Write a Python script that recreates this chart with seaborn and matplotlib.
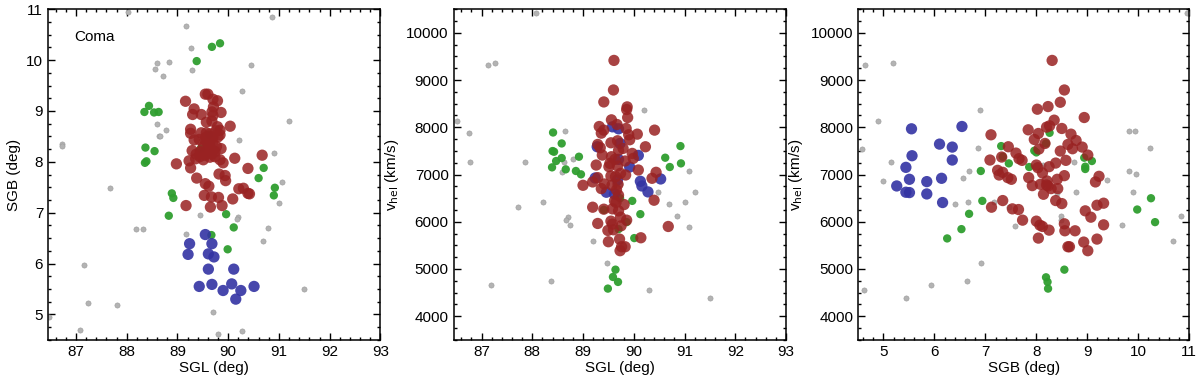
import matplotlib
matplotlib.use("Agg")
import matplotlib.pyplot as plt
import seaborn as sns
import pandas as pd
from matplotlib.ticker import MultipleLocator

sns.set_style("ticks")
plt.rcParams["font.family"] = ["Liberation Sans", "DejaVu Sans"]
plt.rcParams["font.size"] = 11
# plain black text, ticks and frames
for key in ["text.color", "axes.labelcolor", "xtick.color", "ytick.color", "axes.edgecolor"]:
    plt.rcParams[key] = "black"

# ---------------- Panel 1: SGB vs SGL ----------------
p1_gray_sgl = [88.02, 90.86, 89.16, 89.27, 88.60, 88.83, 88.56, 89.29, 88.71, 90.46, 90.27, 91.19,
               88.60, 88.77, 88.64, 88.66, 86.72, 86.72, 90.21, 90.91, 91.07, 87.67, 91.00, 89.45,
               90.19, 90.17, 88.18, 88.33, 89.17, 90.79, 90.69, 87.15, 91.49, 87.23, 87.81, 89.70,
               86.47, 87.09, 89.80, 90.27]
p1_gray_sgb = [10.95, 10.85, 10.67, 10.24, 9.95, 9.96, 9.82, 9.81, 9.69, 9.91, 9.40, 8.80,
               8.75, 8.62, 8.51, 8.51, 8.35, 8.31, 8.42, 8.17, 7.61, 7.48, 7.19, 6.95,
               6.92, 6.88, 6.68, 6.67, 6.59, 6.70, 6.44, 5.97, 5.49, 5.22, 5.19, 5.04,
               4.95, 4.69, 4.62, 4.68]

p1_green_sgl = [89.68, 89.84, 89.38, 88.44, 88.35, 88.54, 88.63, 88.37, 88.55, 88.39, 88.36, 90.70,
                90.60, 90.92, 90.90, 88.89, 88.92, 88.83, 89.96, 90.11, 89.67, 89.99, 89.62, 89.46]
p1_green_sgb = [10.26, 10.33, 9.98, 9.10, 8.98, 8.97, 8.98, 8.28, 8.21, 8.01, 7.98, 7.88,
                7.68, 7.49, 7.34, 7.38, 7.29, 6.94, 6.97, 6.71, 6.56, 6.28, 8.53, 8.26]

p1_blue_sgl = [89.55, 89.24, 89.68, 89.21, 89.61, 89.72, 89.61, 90.11, 89.43, 89.68, 89.90, 90.07,
               90.25, 90.51, 90.15]
p1_blue_sgb = [6.57, 6.39, 6.39, 6.18, 6.19, 6.13, 5.89, 5.89, 5.55, 5.59, 5.47, 5.60,
               5.47, 5.55, 5.30]

p1_red_sgl = [89.55, 89.60, 89.70, 89.79, 89.16, 89.71, 89.68, 89.33, 89.30, 89.47, 89.86, 89.57,
              89.68, 89.79, 90.04, 89.26, 89.26, 89.84, 89.47, 89.57, 89.64, 89.70, 89.84, 89.33,
              89.43, 89.54, 89.60, 89.70, 89.51, 89.64, 89.86, 89.29, 89.37, 89.45, 89.57, 89.67,
              89.74, 89.36, 89.51, 89.64, 89.84, 90.13, 90.67, 89.23, 88.98, 89.26, 89.90, 89.82,
              89.94, 89.95, 90.39, 89.38, 89.55, 89.62, 90.21, 90.30, 90.39, 90.42, 89.53, 89.67,
              89.81, 90.09, 89.17, 89.65, 89.88, 89.56, 89.60, 89.70, 89.77, 89.65, 89.54, 89.76,
              89.70, 89.74, 89.44, 89.80]
p1_red_sgb = [9.33, 9.33, 9.23, 9.20, 9.19, 9.08, 8.98, 9.04, 8.93, 8.93, 8.97, 8.78,
              8.80, 8.69, 8.70, 8.64, 8.56, 8.62, 8.57, 8.57, 8.55, 8.49, 8.53, 8.43,
              8.44, 8.43, 8.35, 8.40, 8.30, 8.30, 8.26, 8.22, 8.15, 8.20, 8.20, 8.15,
              8.10, 8.06, 8.04, 8.09, 8.04, 8.07, 8.13, 8.02, 7.96, 7.88, 7.98, 7.76,
              7.73, 7.63, 7.87, 7.68, 7.57, 7.52, 7.47, 7.48, 7.38, 7.37, 7.34, 7.31,
              7.30, 7.27, 7.14, 7.11, 7.14, 8.48, 8.26, 8.22, 8.30, 8.43, 8.13, 8.61,
              8.91, 8.20, 8.10, 8.49]

# ---------------- Panel 2: vhel vs SGL ----------------
p2_gray_sgl = [88.07, 87.12, 87.27, 90.21, 86.52, 86.76, 88.64, 86.78, 87.85, 88.63, 88.80, 88.59,
               91.08, 90.47, 91.20, 90.70, 91.01, 88.22, 87.72, 88.70, 88.67, 88.75, 90.86, 91.08,
               89.19, 89.47, 87.19, 88.36, 90.30, 91.50, 89.73]
p2_gray_v = [10429, 9325, 9360, 8369, 8129, 7883, 7919, 7264, 7272, 7272, 7335, 7054,
             7082, 6639, 6632, 6385, 6428, 6428, 6315, 6111, 6027, 5921, 6125, 5893,
             5598, 5127, 4670, 4754, 4564, 4388, 6793]

p2_green_sgl = [88.41, 88.58, 88.40, 88.43, 88.58, 88.47, 88.39, 88.66, 88.92, 88.86, 88.96, 90.62,
                90.92, 90.71, 90.93, 89.97, 90.13, 90.01, 89.73, 89.86, 89.70, 89.64, 89.59, 89.69,
                89.49, 89.41]
p2_green_v = [7890, 7658, 7497, 7482, 7349, 7286, 7152, 7110, 7377, 7075, 7004, 7356,
              7602, 7159, 7236, 6442, 6161, 5654, 6498, 5992, 5844, 4986, 4831, 4726,
              4585, 6252]

p2_blue_sgl = [89.58, 89.70, 89.28, 89.73, 90.09, 89.70, 89.92, 89.24, 90.13, 90.16, 90.28, 90.53,
               89.46, 89.62, 89.68]
p2_blue_v = [8010, 7968, 7588, 7658, 7405, 7321, 7159, 6927, 6857, 6758, 6632, 6906,
             6625, 6589, 6885]

p2_red_sgl = [89.61, 89.60, 89.41, 89.87, 89.86, 89.88, 89.56, 89.32, 89.67, 89.85, 89.41, 89.36,
              89.90, 90.07, 90.41, 89.92, 89.68, 89.55, 89.29, 89.79, 89.34, 90.23, 89.70, 89.97,
              89.38, 89.56, 89.99, 89.83, 89.53, 89.63, 89.26, 89.51, 89.68, 90.09, 90.44, 89.84,
              89.74, 89.55, 89.64, 89.29, 90.36, 89.19, 89.42, 89.00, 89.57, 89.69, 89.36, 89.66,
              89.70, 89.62, 89.65, 89.81, 90.40, 89.19, 89.41, 89.58, 89.70, 89.74, 89.55, 89.86,
              89.29, 89.58, 89.75, 90.68, 89.49, 89.60, 90.14, 89.50, 89.72, 89.83, 89.76, 89.73]
p2_red_v = [9416, 8790, 8537, 8432, 8376, 8207, 8158, 8017, 8059, 7975, 7940, 7876,
            7841, 7855, 7940, 7736, 7715, 7672, 7637, 7553, 7567, 7588, 7511, 7447,
            7412, 7377, 7342, 7286, 7236, 7321, 7201, 7166, 7180, 7096, 7047, 6990,
            7025, 6969, 6955, 6934, 6920, 6843, 6800, 6772, 6772, 6793, 6702, 6674,
            6561, 6442, 6407, 6364, 6456, 6308, 6266, 6273, 6231, 6097, 6013, 6034,
            5964, 5950, 5914, 5900, 5816, 5830, 5661, 5577, 5633, 5471, 5471, 5387]

# ---------------- Panel 3: vhel vs SGB ----------------
p3_gray_sgb = [10.95, 4.64, 5.18, 4.89, 4.57, 5.15, 4.99, 6.90, 6.85, 6.67, 6.56, 6.65,
               6.40, 7.16, 7.46, 7.59, 6.91, 6.64, 5.94, 4.62, 5.45, 8.14, 8.40, 8.74,
               8.77, 8.49, 8.48, 9.38, 9.81, 9.94, 9.82, 9.96, 10.23, 9.90, 9.69, 10.84,
               10.68]
p3_gray_v = [10429, 9325, 9360, 8136, 7532, 7272, 6857, 8369, 7560, 7082, 6920, 6421,
             6385, 6421, 6322, 5900, 5127, 4754, 4663, 4564, 4388, 7201, 6603, 7265,
             6625, 6118, 6041, 6885, 7925, 7918, 7068, 7011, 7567, 6639, 5928, 6125,
             5598]

p3_green_sgb = [7.31, 7.34, 7.46, 6.91, 6.94, 6.68, 6.53, 6.25, 8.26, 7.96, 8.00, 7.86,
                8.94, 9.09, 8.96, 8.96, 8.19, 9.98, 10.25, 10.33, 8.55, 8.19, 8.22, 8.23]
p3_green_v = [7602, 7377, 7236, 7075, 6442, 6168, 5844, 5647, 7883, 7504, 7468, 7159,
              7356, 7286, 7166, 7117, 7658, 6259, 6498, 5992, 4986, 4824, 4726, 4585]

p3_blue_sgb = [5.55, 6.54, 6.10, 6.35, 5.56, 6.35, 5.44, 5.51, 6.14, 5.26, 5.85, 5.44,
               5.51, 5.85, 6.16]
p3_blue_v = [7968, 8017, 7644, 7581, 7398, 7307, 7152, 6899, 6920, 6758, 6850, 6625,
             6618, 6589, 6407]

p3_red_sgb = [8.31, 8.55, 8.47, 8.02, 8.23, 8.94, 8.35, 7.11, 7.84, 8.20, 8.26, 8.50,
              8.04, 8.68, 7.96, 8.78, 8.17, 8.62, 7.45, 8.90, 8.05, 8.71, 8.47, 7.60,
              9.01, 7.32, 7.66, 7.72, 7.09, 8.58, 8.38, 8.00, 8.25, 8.03, 7.24, 7.34,
              8.12, 7.27, 8.55, 9.23, 7.44, 7.51, 7.85, 8.41, 8.21, 9.16, 8.08, 7.92,
              8.20, 8.23, 8.29, 8.42, 8.14, 8.38, 7.34, 8.50, 9.32, 9.19, 7.12, 7.53,
              7.65, 8.96, 9.07, 7.73, 8.00, 8.55, 8.07, 8.12, 9.32, 8.25, 8.56, 8.76,
              8.04, 9.19, 8.93, 8.62, 8.65, 9.01]
p3_red_v = [9416, 8790, 8530, 8383, 8439, 8207, 8151, 7841, 7947, 8003, 8031, 7975,
            7869, 7855, 7743, 7721, 7658, 7637, 7588, 7581, 7539, 7546, 7497, 7454,
            7412, 7370, 7335, 7300, 7307, 7300, 7243, 7201, 7166, 7145, 7089, 7047,
            7033, 6990, 6976, 6962, 6934, 6899, 6934, 6899, 6864, 6843, 6793, 6765,
            6780, 6758, 6702, 6702, 6582, 6449, 6449, 6385, 6393, 6350, 6308, 6273,
            6259, 6231, 6097, 6034, 6013, 5957, 5928, 5900, 5935, 5823, 5809, 5809,
            5654, 5633, 5570, 5471, 5471, 5387]

styles = {
    "gray": dict(color="#b3b3b3", s=14, edgecolor="#9a9a9a", linewidth=0.4, alpha=1.0),
    "green": dict(color="#2f9e2f", s=36, edgecolor="none", linewidth=0, alpha=0.95),
    "blue": dict(color="#3333a3", s=66, edgecolor="none", linewidth=0, alpha=0.9),
    "red": dict(color="#992222", s=66, edgecolor="none", linewidth=0, alpha=0.85),
}

panels = [
    [("gray", p1_gray_sgl, p1_gray_sgb), ("green", p1_green_sgl, p1_green_sgb),
     ("blue", p1_blue_sgl, p1_blue_sgb), ("red", p1_red_sgl, p1_red_sgb)],
    [("gray", p2_gray_sgl, p2_gray_v), ("green", p2_green_sgl, p2_green_v),
     ("blue", p2_blue_sgl, p2_blue_v), ("red", p2_red_sgl, p2_red_v)],
    [("gray", p3_gray_sgb, p3_gray_v), ("green", p3_green_sgb, p3_green_v),
     ("blue", p3_blue_sgb, p3_blue_v), ("red", p3_red_sgb, p3_red_v)],
]

fig = plt.figure(figsize=(12, 3.84), dpi=100)
boxes = [(0.040, 0.115, 0.277, 0.861), (0.378, 0.115, 0.277, 0.861), (0.715, 0.115, 0.276, 0.861)]
axes = [fig.add_axes(b) for b in boxes]

for ax, groups in zip(axes, panels):
    for name, xs, ys in groups:
        df = pd.DataFrame({"x": xs, "y": ys})
        sns.scatterplot(data=df, x="x", y="y", ax=ax, legend=False, **styles[name])

axes[0].set_xlim(86.45, 93)
axes[0].set_ylim(4.5, 11)
axes[0].set_xlabel("SGL (deg)")
axes[0].set_ylabel("SGB (deg)")
axes[0].xaxis.set_major_locator(MultipleLocator(1))
axes[0].xaxis.set_minor_locator(MultipleLocator(0.2))
axes[0].yaxis.set_major_locator(MultipleLocator(1))
axes[0].yaxis.set_minor_locator(MultipleLocator(0.25))
axes[0].text(86.96, 10.46, "Coma", fontsize=11, va="center", ha="left")

axes[1].set_xlim(86.45, 93)
axes[1].set_ylim(3500, 10500)
axes[1].set_xlabel("SGL (deg)")
axes[1].set_ylabel(r"v$_{\rm hel}$ (km/s)")
axes[1].xaxis.set_major_locator(MultipleLocator(1))
axes[1].xaxis.set_minor_locator(MultipleLocator(0.2))

axes[2].set_xlim(4.5, 11)
axes[2].set_ylim(3500, 10500)
axes[2].set_xlabel("SGB (deg)")
axes[2].set_ylabel(r"v$_{\rm hel}$ (km/s)")
axes[2].xaxis.set_major_locator(MultipleLocator(1))
axes[2].xaxis.set_minor_locator(MultipleLocator(0.2))

for ax in axes[1:]:
    ax.yaxis.set_major_locator(MultipleLocator(1000))
    ax.yaxis.set_minor_locator(MultipleLocator(250))

for ax in axes:
    ax.tick_params(which="both", direction="in", top=True, right=True, labelsize=11, width=1.0,
                   colors="black")
    ax.tick_params(which="major", length=5)
    ax.tick_params(which="minor", length=2.5)
    for sp in ax.spines.values():
        sp.set_linewidth(1.1)
        sp.set_color("black")
    ax.xaxis.labelpad = 2
    ax.yaxis.labelpad = 4

fig.savefig("out.png", dpi=100)
